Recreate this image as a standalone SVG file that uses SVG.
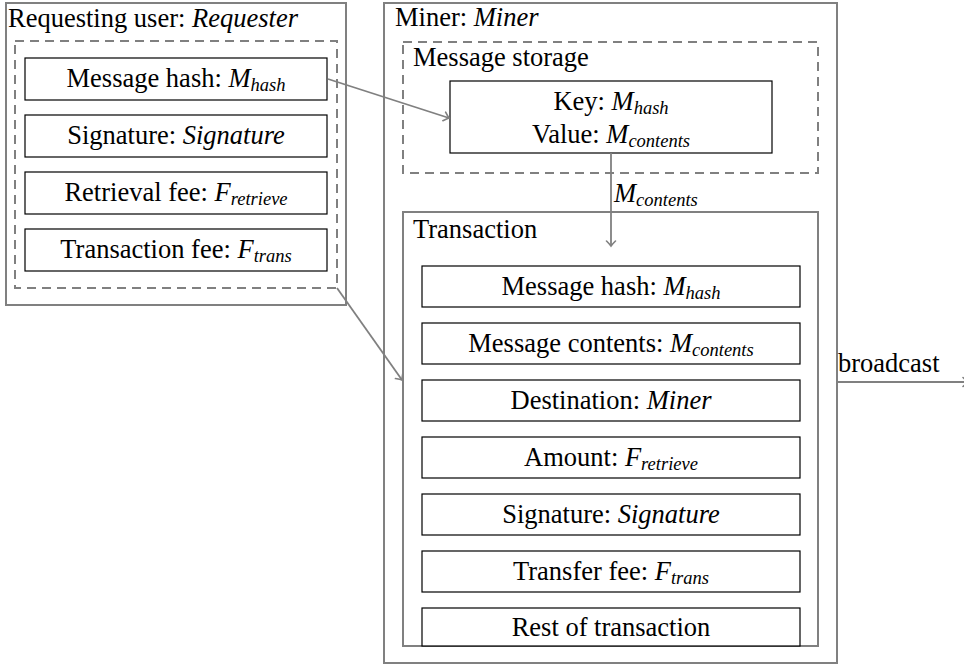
<svg xmlns="http://www.w3.org/2000/svg" width="964" height="665" viewBox="0 0 964 665">
<defs>
<marker id="arr" viewBox="-6 -6 8 12" markerWidth="8" markerHeight="12" refX="0" refY="0" orient="auto" markerUnits="userSpaceOnUse">
<path d="M-5,-4.5 Q-1.5,-1 0,0 Q-1.5,1 -5,4.5" fill="none" stroke="#808080" stroke-width="1.6" stroke-linecap="round"/>
</marker>
</defs>
<rect width="964" height="665" fill="#fff"/>
<g id="requester">
<rect x="6" y="3" width="340" height="302" fill="none" stroke="#808080" stroke-width="2"/>
<text x="8" y="27" font-family="Liberation Serif" font-size="26.5">Requesting user: <tspan font-style="italic">Requester</tspan></text>
<rect x="15" y="41" width="322" height="247" fill="none" stroke="#808080" stroke-width="2" stroke-dasharray="9 6"/>
</g>
<g id="req-hash"><rect x="25" y="58" width="302" height="42" fill="#fff" stroke="#000" stroke-width="1.2"/><text text-anchor="middle" x="176" y="87" font-family="Liberation Serif" font-size="26.5">Message hash: <tspan font-style="italic">M</tspan><tspan font-style="italic" font-size="18.5" dy="4">hash</tspan></text></g>
<g id="req-sig"><rect x="25" y="115" width="302" height="42" fill="#fff" stroke="#000" stroke-width="1.2"/><text text-anchor="middle" x="176" y="144" font-family="Liberation Serif" font-size="26.5">Signature: <tspan font-style="italic">Signature</tspan></text></g>
<g id="req-fee"><rect x="25" y="172" width="302" height="42" fill="#fff" stroke="#000" stroke-width="1.2"/><text text-anchor="middle" x="176" y="201" font-family="Liberation Serif" font-size="26.5">Retrieval fee: <tspan font-style="italic">F</tspan><tspan font-style="italic" font-size="18.5" dy="4">retrieve</tspan></text></g>
<g id="req-tfee"><rect x="25" y="229" width="302" height="42" fill="#fff" stroke="#000" stroke-width="1.2"/><text text-anchor="middle" x="176" y="258" font-family="Liberation Serif" font-size="26.5">Transaction fee: <tspan font-style="italic">F</tspan><tspan font-style="italic" font-size="18.5" dy="4">trans</tspan></text></g>

<g id="miner">
<rect x="384" y="3" width="453" height="660" fill="none" stroke="#808080" stroke-width="2"/>
<text x="395" y="26" font-family="Liberation Serif" font-size="26.5">Miner: <tspan font-style="italic">Miner</tspan></text>
</g>
<g id="storage">
<rect x="403" y="42" width="415" height="131" fill="none" stroke="#808080" stroke-width="2" stroke-dasharray="9 6"/>
<text x="413" y="66" font-family="Liberation Serif" font-size="26.5">Message storage</text>
</g>
<g id="kv">
<rect x="450" y="81" width="322" height="72" fill="#fff" stroke="#000" stroke-width="1.2"/>
<text text-anchor="middle" x="611" y="110" font-family="Liberation Serif" font-size="26.5">Key: <tspan font-style="italic">M</tspan><tspan font-style="italic" font-size="18.5" dy="4">hash</tspan></text>
<text text-anchor="middle" x="611" y="143" font-family="Liberation Serif" font-size="26.5">Value: <tspan font-style="italic">M</tspan><tspan font-style="italic" font-size="18.5" dy="4">contents</tspan></text>
</g>
<g id="transaction">
<rect x="403" y="212" width="415" height="434" fill="none" stroke="#808080" stroke-width="2"/>
<text x="413" y="238" font-family="Liberation Serif" font-size="26.5">Transaction</text>
</g>
<g id="tx-hash"><rect x="422" y="266" width="378" height="41" fill="#fff" stroke="#000" stroke-width="1.2"/><text text-anchor="middle" x="611" y="295" font-family="Liberation Serif" font-size="26.5">Message hash: <tspan font-style="italic">M</tspan><tspan font-style="italic" font-size="18.5" dy="4">hash</tspan></text></g>
<g id="tx-contents"><rect x="422" y="323" width="378" height="41" fill="#fff" stroke="#000" stroke-width="1.2"/><text text-anchor="middle" x="611" y="352" font-family="Liberation Serif" font-size="26.5">Message contents: <tspan font-style="italic">M</tspan><tspan font-style="italic" font-size="18.5" dy="4">contents</tspan></text></g>
<g id="tx-dest"><rect x="422" y="380" width="378" height="41" fill="#fff" stroke="#000" stroke-width="1.2"/><text text-anchor="middle" x="611" y="409" font-family="Liberation Serif" font-size="26.5">Destination: <tspan font-style="italic">Miner</tspan></text></g>
<g id="tx-amount"><rect x="422" y="437" width="378" height="41" fill="#fff" stroke="#000" stroke-width="1.2"/><text text-anchor="middle" x="611" y="466" font-family="Liberation Serif" font-size="26.5">Amount: <tspan font-style="italic">F</tspan><tspan font-style="italic" font-size="18.5" dy="4">retrieve</tspan></text></g>
<g id="tx-sig"><rect x="422" y="494" width="378" height="41" fill="#fff" stroke="#000" stroke-width="1.2"/><text text-anchor="middle" x="611" y="523" font-family="Liberation Serif" font-size="26.5">Signature: <tspan font-style="italic">Signature</tspan></text></g>
<g id="tx-fee"><rect x="422" y="551" width="378" height="41" fill="#fff" stroke="#000" stroke-width="1.2"/><text text-anchor="middle" x="611" y="580" font-family="Liberation Serif" font-size="26.5">Transfer fee: <tspan font-style="italic">F</tspan><tspan font-style="italic" font-size="18.5" dy="4">trans</tspan></text></g>
<g id="tx-rest"><rect x="422" y="608" width="378" height="38" fill="#fff" stroke="#000" stroke-width="1.2"/><text text-anchor="middle" x="611" y="636" font-family="Liberation Serif" font-size="26.5">Rest of transaction</text></g>

<g id="connectors" stroke="#808080" stroke-width="1.8" fill="none">
<line x1="328" y1="79" x2="449" y2="118" marker-end="url(#arr)"/>
<line x1="337" y1="288" x2="402" y2="380" marker-end="url(#arr)"/>
<line x1="611" y1="153" x2="611" y2="246" marker-end="url(#arr)"/>
<line x1="837" y1="382" x2="968" y2="382" marker-end="url(#arr)"/>
<text x="614" y="202" fill="#000" stroke="none" font-family="Liberation Serif" font-size="26.5"><tspan font-style="italic">M</tspan><tspan font-style="italic" font-size="18.5" dy="4">contents</tspan></text>
<text x="838" y="372" fill="#000" stroke="none" font-family="Liberation Serif" font-size="26.5">broadcast</text>
</g>
</svg>
